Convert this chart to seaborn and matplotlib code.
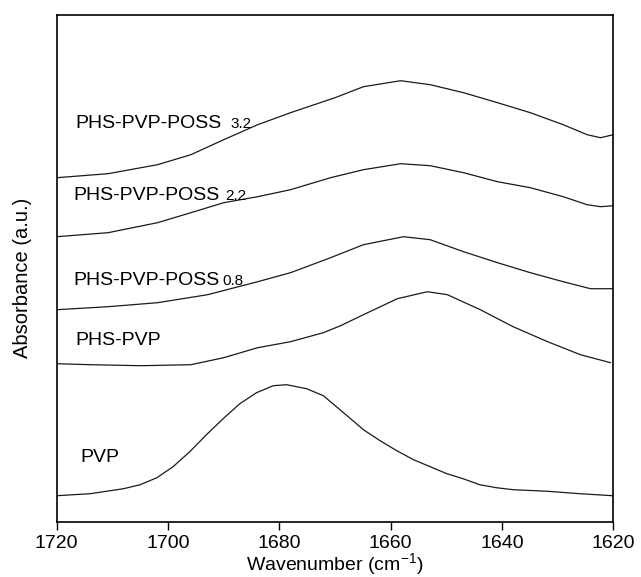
import numpy as np
import pandas as pd
import matplotlib
matplotlib.use("Agg")
import matplotlib.pyplot as plt
import seaborn as sns

# FTIR carbonyl region, stacked spectra (absorbance in arbitrary units, offset per sample)
wn_poss32 = [1720, 1710.8, 1701.9, 1695.9, 1690.0, 1683.9, 1678.0, 1670.0, 1664.9, 1658.2,
             1652.9, 1646.9, 1640.8, 1634.9, 1629.0, 1624.7, 1622.3, 1620.0]
abs_poss32 = [3.30, 3.34, 3.43, 3.53, 3.68, 3.83, 3.95, 4.10, 4.21, 4.27,
              4.23, 4.15, 4.05, 3.95, 3.83, 3.73, 3.70, 3.73]

wn_poss22 = [1720, 1710.8, 1701.9, 1695.9, 1690.0, 1683.9, 1678.0, 1670.8, 1664.9, 1658.2,
             1652.9, 1646.9, 1640.8, 1634.9, 1629.0, 1624.7, 1622.3, 1620.0]
abs_poss22 = [2.71, 2.75, 2.85, 2.95, 3.05, 3.11, 3.18, 3.30, 3.38, 3.44,
              3.42, 3.35, 3.26, 3.20, 3.11, 3.03, 3.01, 3.02]

wn_poss08 = [1720, 1710.8, 1701.9, 1692.9, 1683.9, 1678.0, 1670.8, 1664.9, 1657.7,
             1652.9, 1646.9, 1640.8, 1634.9, 1629.0, 1624.1, 1620.0]
abs_poss08 = [1.98, 2.01, 2.05, 2.13, 2.26, 2.35, 2.50, 2.63, 2.71,
              2.68, 2.56, 2.45, 2.35, 2.26, 2.19, 2.19]

wn_phs_pvp = [1720, 1713.9, 1704.9, 1695.9, 1690.0, 1683.9, 1678.0, 1672.1, 1669.0, 1664.9,
              1658.8, 1653.4, 1649.8, 1643.9, 1638.0, 1631.8, 1625.9, 1620.5]
abs_phs_pvp = [1.44, 1.43, 1.42, 1.43, 1.50, 1.60, 1.66, 1.75, 1.82, 1.93,
               2.09, 2.16, 2.13, 1.98, 1.81, 1.66, 1.53, 1.45]

wn_pvp = [1720, 1714.0, 1708.0, 1705.0, 1702.0, 1699.1, 1696.1, 1693.1, 1690.1, 1687.1,
          1684.1, 1681.1, 1678.7, 1675.1, 1672.1, 1669.1, 1664.9, 1661.9, 1658.9, 1655.9,
          1652.9, 1649.9, 1647.0, 1644.0, 1641.0, 1638.0, 1632.0, 1626.0, 1620.1]
abs_pvp = [0.12, 0.14, 0.19, 0.23, 0.30, 0.41, 0.56, 0.73, 0.89, 1.04,
           1.15, 1.22, 1.23, 1.19, 1.12, 0.98, 0.78, 0.67, 0.57, 0.48,
           0.41, 0.34, 0.29, 0.23, 0.20, 0.18, 0.165, 0.14, 0.12]

series = {
    "PHS-PVP-POSS 3.2": (wn_poss32, abs_poss32),
    "PHS-PVP-POSS 2.2": (wn_poss22, abs_poss22),
    "PHS-PVP-POSS 0.8": (wn_poss08, abs_poss08),
    "PHS-PVP": (wn_phs_pvp, abs_phs_pvp),
    "PVP": (wn_pvp, abs_pvp),
}

frames = []
for name, (wn, ab) in series.items():
    frames.append(pd.DataFrame({"wavenumber": wn, "absorbance": ab, "sample": name}))
df = pd.concat(frames, ignore_index=True)

sns.set_theme(style="white")
plt.rcParams["font.family"] = ["Liberation Sans", "DejaVu Sans"]
plt.rcParams["mathtext.fontset"] = "custom"
plt.rcParams["mathtext.rm"] = "Liberation Sans"
plt.rcParams["mathtext.it"] = "Liberation Sans"

fig = plt.figure(figsize=(6.41, 5.77), dpi=100)
ax = fig.add_axes([0.0885, 0.0953, 0.8683, 0.8787])

sns.lineplot(data=df, x="wavenumber", y="absorbance", units="sample", estimator=None,
             sort=False, color="#1a1a1a", linewidth=0.9, ax=ax, legend=False)

ax.set_xlim(1720, 1620)
ax.set_ylim(-0.143, 4.927)
ax.set_xticks([1720, 1700, 1680, 1660, 1640, 1620])
ax.set_yticks([])
ax.tick_params(axis="x", direction="out", length=6.0, width=1.0, color="black",
               labelsize=14, pad=3, labelcolor="black", bottom=True)
for sp in ax.spines.values():
    sp.set_color("black")
    sp.set_linewidth(1.2)

ax.set_xlabel("Wavenumber (cm$^{-1}$)", fontsize=14, color="black", va="bottom")
ax.xaxis.set_label_coords(0.5, -0.1075)
ax.set_ylabel("Absorbance (a.u.)", fontsize=14.5, color="black", va="center")
ax.yaxis.set_label_coords(-0.062, 0.482)

# curve labels: sample name plus smaller POSS content
name_kw = dict(fontsize=14, color="black", va="baseline", ha="left")
num_kw = dict(fontsize=11, color="black", va="baseline", ha="left")
ax.text(1716.7, 3.794, "PHS-PVP-POSS", **name_kw)
ax.text(1688.7, 3.794, "3.2", **num_kw)
ax.text(1717.0, 3.077, "PHS-PVP-POSS", **name_kw)
ax.text(1689.8, 3.077, "2.2", **num_kw)
ax.text(1717.0, 2.227, "PHS-PVP-POSS", **name_kw)
ax.text(1690.2, 2.227, "0.8", **num_kw)
ax.text(1716.7, 1.627, "PHS-PVP", **name_kw)
ax.text(1715.7, 0.46, "PVP", **name_kw)

fig.savefig("out.png", dpi=100, facecolor="white")
